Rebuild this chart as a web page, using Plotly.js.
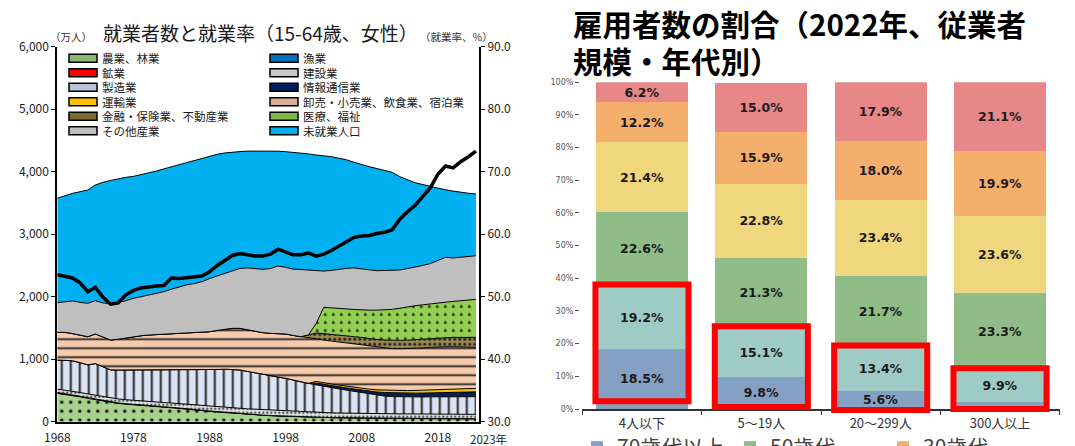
<!DOCTYPE html>
<html><head><meta charset="utf-8">
<script src="https://cdn.plot.ly/plotly-3.0.1.min.js"></script>
<style>html,body{margin:0;padding:0;background:#fff;}#chart{width:1075px;height:446px;}</style>
</head><body><div id="chart"></div>
<script>
// ---------- Left chart data (万人, 就業率 %) ----------
const years = [1968,1969,1970,1971,1972,1973,1974,1975,1976,1977,1978,1979,1980,1981,1982,1983,1984,1985,1986,1987,1988,1989,1990,1991,1992,1993,1994,1995,1996,1997,1998,1999,2000,2001,2002,2003,2004,2005,2006,2007,2008,2009,2010,2011,2012,2013,2014,2015,2016,2017,2018,2019,2020,2021,2022,2023];
const agri   = [454,437,420,397,374,352,328,304,292,280, 268,259,250,241,232,223,214,202,190,178, 166,155,145,135,125,116,108,101,95,89, 84,79,75,71,68,65,63,61,59,57, 55,54,53,52,51,50,50,49,49,48, 48,47,47,46,46,45];
const fish   = [10,10,9,9,9,8,8,8,8,7, 7,7,7,7,6,6,6,6,6,5, 5,5,5,5,5,4,4,4,4,4, 4,3,3,3,3,3,3,3,3,3, 3,3,3,3,3,3,2,2,2,2, 2,2,2,2,2,2];
const mine   = [3,3,2,2,2,1,1,1,1,1, 1,1,1,1,1,1,1,1,1,1, 1,1,1,1,1,1,1,1,1,1, 1,1,1,1,1,1,1,1,1,1, 1,1,1,1,1,1,1,1,1,1, 1,1,1,1,1,1];
const cons   = [55,56,58,59,60,62,62,62,63,64, 65,65,66,67,68,69,70,71,72,74, 76,78,80,82,84,85,86,86,86,86, 85,84,82,80,78,76,75,74,73,72, 71,70,70,70,70,71,72,72,72,72, 72,72,72,71,71,70];
const mfg    = [465,479,486,478,465,507,481,455,464,476, 489,502,514,522,528,533,539,550,559,569, 582,597,609,617,613,599,581,563,549,535, 521,498,474,457,440,420,403,386,369,352, 335,312,293,284,277,273,271,272,272,275, 277,278,278,280,280,282];
const info   = [0,0,0,0,0,0,0,0,0,0, 0,0,0,0,0,0,0,0,0,0, 0,0,0,0,0,0,0,0,0,0, 0,0,0,0,30,31,32,34,35,38, 40,48,55,57,60,60,60,61,62,64, 65,67,70,72,75,78];
const trans  = [0,0,0,0,0,0,0,0,0,0, 0,0,0,0,0,0,0,0,0,0, 0,0,0,0,0,0,0,0,0,0, 0,0,0,0,25,25,26,27,28,29, 30,33,35,37,40,41,42,43,45,47, 50,51,52,53,55,56];
const retail = [443,445,435,440,450,473,470,477,492,512, 530,541,549,555,565,573,580,584,592,603, 610,624,643,654,666,665,660,670,679,695, 708,715,725,738,685,689,687,689,692,693, 695,689,680,676,668,669,672,675,677,681, 685,682,678,670,660,656];
const fin    = [0,0,0,0,0,0,0,0,0,0, 0,0,0,0,0,0,0,0,0,0, 0,0,0,0,0,0,0,0,0,0, 0,0,0,40,90,100,105,110,112,115, 118,120,125,128,130,133,135,138,140,143, 145,148,150,153,157,160];
const med    = [0,0,0,0,0,0,0,0,0,0, 0,0,0,0,0,0,0,0,0,0, 0,0,0,0,0,0,0,0,0,0, 0,0,0,0,150,420,430,429,433,435, 439,455,470,482,497,514,535,542,550,552, 559,567,575,587,598,608];
const other  = [474,485,521,525,534,533,550,576,584,595, 614,625,640,657,680,715,750,776,790,810, 850,870,891,926,960,990,1005,1013,1036,1081, 1067,1060,1075,1040,846,580,595,626,649,665, 663,645,631,626,619,612,610,615,630,645, 676,715,695,695,700,698];
const nonemp = [1671,1700,1723,1770,1813,1851,1930,1977,1986,1975, 1951,1950,1948,1960,1965,1960,1950,1950,1965,1970, 1955,1948,1926,1895,1868,1870,1887,1895,1880,1837, 1850,1870,1865,1855,1851,1845,1820,1775,1736,1690, 1660,1650,1634,1604,1574,1493,1420,1354,1295,1235, 1160,1080,1070,1040,1010,987];
const rate   = [53.5,53.2,53.0,52.2,50.8,51.5,49.9,48.8,49.0,50.3, 51.0,51.4,51.6,51.7,51.8,53.0,52.9,53.0,53.1,53.3, 54.0,55.0,55.8,56.6,56.9,56.7,56.5,56.5,56.8,57.6, 57.2,56.7,56.7,57.0,56.5,56.8,57.4,58.1,58.8,59.5, 59.7,59.8,60.1,60.3,60.7,62.4,63.6,64.6,66.0,67.4, 69.6,70.9,70.6,71.6,72.4,73.3];
const yearTicks = [1968,1978,1988,1998,2008,2018];

const industryNames = ['農業、林業','漁業','鉱業','建設業','製造業','情報通信業','運輸業','卸売・小売業、飲食業、宿泊業','金融・保険業、不動産業','医療、福祉','その他産業','未就業人口'];
const industryData = [agri, fish, mine, cons, mfg, info, trans, retail, fin, med, other, nonemp];

// ---------- Right chart data (%) ----------
const sizeCats = ['4人以下','5～19人','20～299人','300人以上'];
const ageNames = ['70歳代以上','60歳代','50歳代','40歳代','30歳代','20歳代以下'];
const age70 = [18.5, 9.8, 5.6, 2.2];
const age60 = [19.2, 15.1, 13.4, 9.9];
const age50 = [22.6, 21.3, 21.7, 23.3];
const age40 = [21.4, 22.8, 23.4, 23.6];
const age30 = [12.2, 15.9, 18.0, 19.9];
const age20 = [6.2, 15.0, 17.9, 21.1];
const ageData = [age70, age60, age50, age40, age30, age20];
const pctTicks = [0,10,20,30,40,50,60,70,80,90,100];

// ---------- styles ----------
const W = 1075, H = 446;
const px = x => x / W;
const py = y => (H - y) / H;
const FONT = '"Noto Sans CJK JP", "Noto Sans", sans-serif';
const VFONT = '"DejaVu Sans", Verdana, sans-serif';

const indColors = ['#A9D18E','#0070C0','#FF0000','#E4E4E4','#DAE3F3','#002060','#FFC000','#F8CBAD','#9C8A4C','#92D050','#BFBFBF','#00B0F0'];
const indSwatch = ['#8DB872','#0070C0','#FF0000','#C8C8C8','#B8C2D6','#002060','#FFC000','#D9AE95','#7A6A30','#7DB848','#BFBFBF','#00B0F0'];
const indPatterns = [
  {shape:'.', fgcolor:'#1a1a1a', size:9, solidity:0.12},
  null, null,
  {shape:'.', fgcolor:'#555555', size:4, solidity:0.3},
  {shape:'|', fgcolor:'#222222', size:9, solidity:0.22},
  null, null,
  {shape:'-', fgcolor:'#222222', size:9, solidity:0.2},
  {shape:'.', fgcolor:'#222222', size:5, solidity:0.3},
  {shape:'.', fgcolor:'#2a2a2a', size:8, solidity:0.1},
  null, null
];
const ageColors = ['#84A0C2','#9FCBC6','#8FBC87','#F0D77D','#F5AF6D','#E88787'];
const ageGroups = ['g1','g1','g2','g2','g3','g3'];

const traces = [];
industryData.forEach((vals, i) => {
  const t = {
    type:'scatter', mode:'lines', x: years, y: vals, name: industryNames[i],
    stackgroup:'emp', fillcolor: indColors[i],
    line:{color:'black', width:1}, showlegend:false, hoverinfo:'skip',
    xaxis:'x', yaxis:'y'
  };
  if (indPatterns[i]) t.fillpattern = Object.assign({bgcolor: indColors[i]}, indPatterns[i]);
  traces.push(t);
});
traces.push({
  type:'scatter', mode:'lines', x: years, y: rate, name:'就業率',
  line:{color:'black', width:3.5}, showlegend:false, hoverinfo:'skip',
  xaxis:'x', yaxis:'y2'
});

ageData.forEach((vals, i) => {
  traces.push({
    type:'bar', x: sizeCats, y: vals, name: ageNames[i],
    marker:{color: ageColors[i], line:{width:0}},
    text: vals.map(v => v >= 3 ? v.toFixed(1) + '%' : ''),
    textposition:'inside', insidetextanchor:'middle', constraintext:'none',
    textfont:{family: VFONT, size:12.5, color:'#1a1a1a', weight:700},
    legendgroup: ageGroups[i], hoverinfo:'skip',
    xaxis:'x3', yaxis:'y3'
  });
});

// red highlight frames around 70歳代以上 + 60歳代
const frameBottoms = [2.4, 0.6, -0.3, 0.0];
const shapes = sizeCats.map((c, i) => ({
  type:'rect', xref:'x3', yref:'y3',
  x0: i - 0.39, x1: i + 0.39,
  y0: frameBottoms[i], y1: age70[i] + age60[i] + 0.4,
  line:{color:'#FF0000', width:6}, fillcolor:'rgba(0,0,0,0)', layer:'above'
}));

// manual legend for left chart (2 columns)
const annotations = [];
const legColX = [69, 270], legRowY = [58.3, 72.8, 87.3, 101.8, 116.3, 130.8];
industryNames.forEach((n, i) => {
  const col = i % 2, row = Math.floor(i / 2);
  const x0 = legColX[col], yc = legRowY[row];
  shapes.push({type:'rect', xref:'paper', yref:'paper', x0: px(x0), x1: px(x0 + 28), y0: py(yc + 4), y1: py(yc - 4),
    fillcolor: indSwatch[i], line:{color:'black', width:1.5}, layer:'above'});
  annotations.push({xref:'paper', yref:'paper', x: px(x0 + 31), y: py(yc), xanchor:'left', yanchor:'middle',
    text: n, showarrow:false, font:{family: FONT, size:11.5, color:'#1a1a1a'}});
});

annotations.push(
  {xref:'paper', yref:'paper', x: px(260), y: py(33), xanchor:'center', yanchor:'middle', showarrow:false,
   text:'就業者数と就業率（15-64歳、女性）', font:{family: FONT, size:19, color:'#1a1a1a'}},
  {xref:'paper', yref:'paper', x: px(71), y: py(36), xanchor:'center', yanchor:'middle', showarrow:false,
   text:'（万人）', font:{family: FONT, size:10.5, color:'#333'}},
  {xref:'paper', yref:'paper', x: px(456), y: py(36), xanchor:'center', yanchor:'middle', showarrow:false,
   text:'（就業率、%）', font:{family: FONT, size:10.5, color:'#333'}},
  {xref:'paper', yref:'paper', x: px(488), y: py(439), xanchor:'center', yanchor:'middle', showarrow:false,
   text:'2023年', font:{family: FONT, size:11.5, color:'#1a1a1a'}},
  {xref:'paper', yref:'paper', x: px(571), y: py(23.5), xanchor:'left', yanchor:'middle', showarrow:false,
   text:'雇用者数の割合（2022年、従業者', font:{family: FONT, size:29.5, color:'#000', weight:700}},
  {xref:'paper', yref:'paper', x: px(571), y: py(59.5), xanchor:'left', yanchor:'middle', showarrow:false,
   text:'規模・年代別）', font:{family: FONT, size:29.5, color:'#000', weight:700}}
);

const layout = {
  width: W, height: H,
  margin:{l:0, r:0, t:0, b:0, autoexpand:false},
  paper_bgcolor:'#fff', plot_bgcolor:'rgba(0,0,0,0)',
  font:{family: FONT, color:'#1a1a1a'},
  hovermode:false, dragmode:false,
  barmode:'stack', bargap:0.23,
  xaxis:{domain:[px(57.3), px(479)], range:[1968, 2023.4], tickvals: yearTicks, ticktext: yearTicks.map(String),
    showline:true, linecolor:'black', linewidth:2, ticks:'', showgrid:false, zeroline:false,
    tickfont:{size:12, color:'#1a1a1a'}, ticklabelstandoff:4, anchor:'y'},
  yaxis:{domain:[py(421.7), py(46.7)], range:[0, 6000], dtick:1000, tickformat:',d',
    showline:true, linecolor:'black', linewidth:2, ticks:'outside', ticklen:4, tickcolor:'black', tickwidth:1,
    showgrid:false, zeroline:false, tickfont:{size:12, color:'#1a1a1a'}, anchor:'x'},
  yaxis2:{overlaying:'y', side:'right', anchor:'x', range:[30, 90], dtick:10, tickformat:'.1f',
    showline:true, linecolor:'black', linewidth:2, ticks:'outside', ticklen:4, tickcolor:'black',
    showgrid:false, zeroline:false, tickfont:{size:12, color:'#1a1a1a'}},
  xaxis3:{domain:[px(582.3), px(1059.7)], anchor:'free', position: py(409), type:'category',
    range:[-0.5, 3.5], tickson:'boundaries', ticks:'outside', ticklen:4, tickcolor:'#333',
    showline:true, linecolor:'#333', linewidth:1.5, showgrid:false, zeroline:false,
    tickfont:{size:13, color:'#333'}, ticklabelstandoff:2},
  yaxis3:{domain:[py(413.9), py(82.3)], anchor:'free', position: px(579), range:[-1.5, 100],
    tickvals: pctTicks, ticktext: pctTicks.map(v => v + '%'), ticks:'outside', ticklen:4, tickcolor:'#555',
    showline:false, showgrid:false, zeroline:false, tickfont:{family: VFONT, size:8, color:'#555'}},
  legend:{orientation:'h', traceorder:'grouped', x: px(577), xanchor:'left', y: py(427), yanchor:'top',
    entrywidth:108, entrywidthmode:'pixels',
    font:{family: FONT, size:21, color:'#444'}, bgcolor:'rgba(0,0,0,0)', itemclick:false, itemdoubleclick:false},
  shapes: shapes,
  annotations: annotations
};

Plotly.newPlot('chart', traces, layout, {staticPlot:true, displayModeBar:false});
</script></body></html>
